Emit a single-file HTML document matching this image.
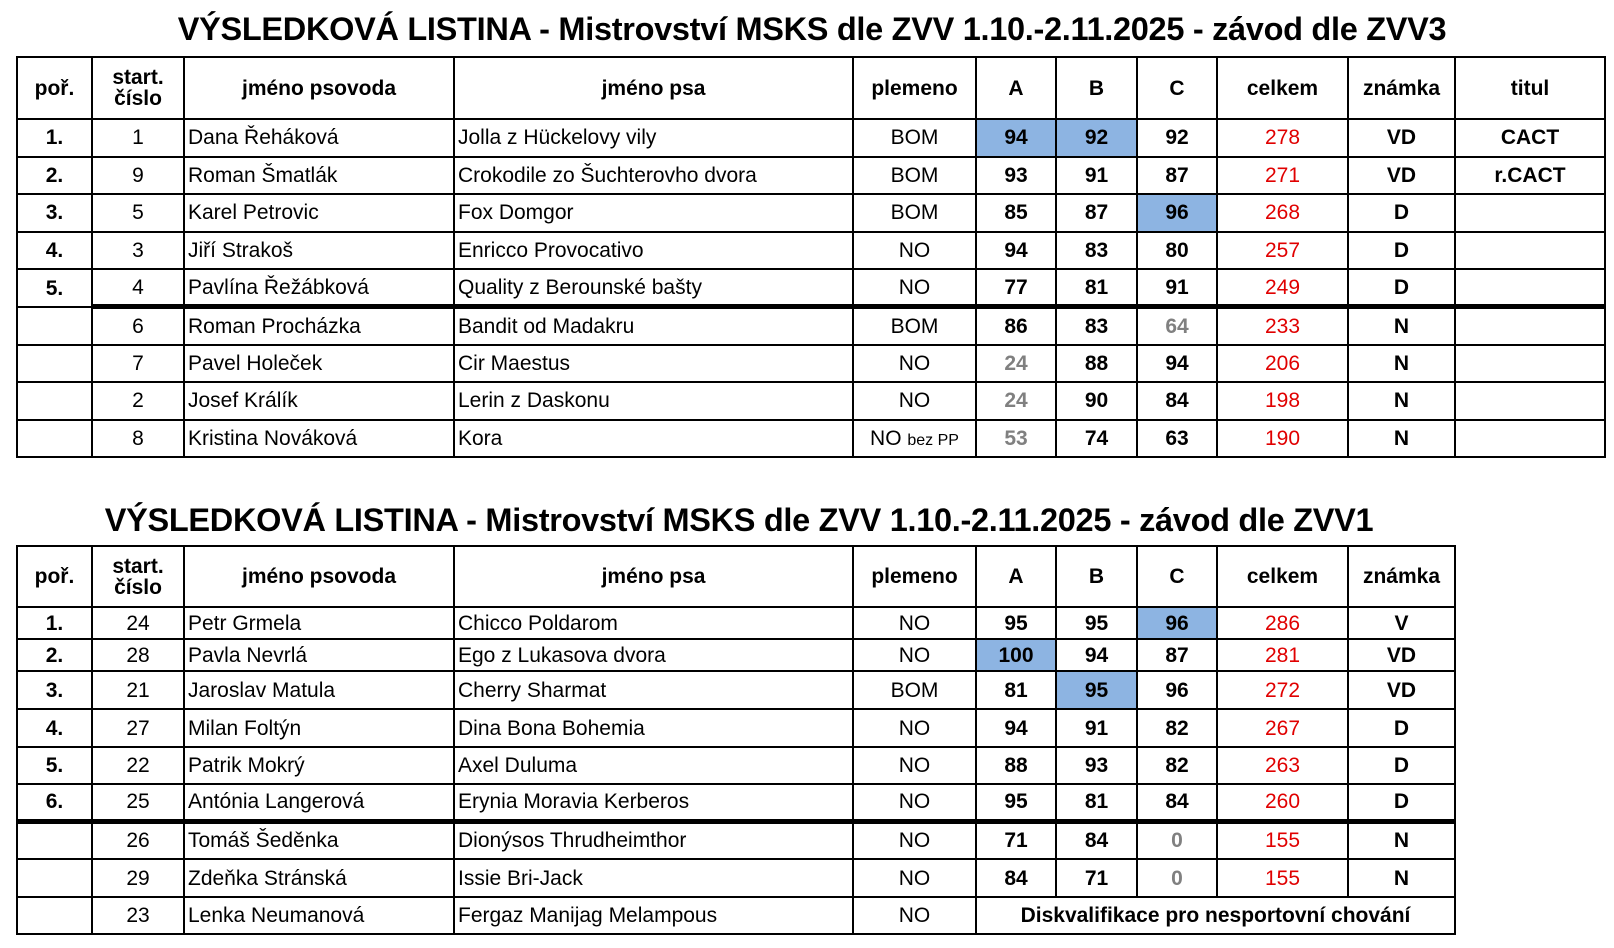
<!DOCTYPE html><html><head><meta charset="utf-8"><style>
body{margin:0;width:1614px;height:948px;background:#fff;font-family:"Liberation Sans",sans-serif;position:relative;overflow:hidden}
.t{position:absolute;left:0;width:1614px;text-align:center;font-weight:bold;font-size:32.5px;letter-spacing:-0.3px}
table{position:absolute;left:16px;border-collapse:collapse;table-layout:fixed;font-size:21px}
td{border:2px solid #000;padding:0;text-align:center;white-space:nowrap;overflow:hidden;line-height:1}
td.l{text-align:left;padding-left:3px}
tr.h td{font-weight:bold;font-size:21px}
.b{font-weight:bold}.r{color:#e00000}.g{color:#808080;font-weight:bold}.hl{background:#8db4e2}
.tk td{border-top:5px solid #000}
small{font-size:16px}
</style></head><body>
<div class="t" style="top:11px;left:0;width:1624px">VÝSLEDKOVÁ LISTINA - Mistrovství MSKS dle ZVV 1.10.-2.11.2025 - závod dle ZVV3</div>
<table style="top:56px;width:1588px">
<colgroup><col style="width:75px"><col style="width:92px"><col style="width:270px"><col style="width:399px"><col style="width:123px"><col style="width:80px"><col style="width:81px"><col style="width:80px"><col style="width:131px"><col style="width:107px"><col style="width:150px"></colgroup>
<tr class="h" style="height:62px"><td>poř.</td><td>start.<br>číslo</td><td>jméno psovoda</td><td>jméno psa</td><td>plemeno</td><td>A</td><td>B</td><td>C</td><td>celkem</td><td>známka</td><td>titul</td></tr>
<tr style="height:37.6px"><td class="b">1.</td><td>1</td><td class="l">Dana Řeháková</td><td class="l">Jolla z Hückelovy vily</td><td>BOM</td><td class="b hl">94</td><td class="b hl">92</td><td class="b">92</td><td class="r">278</td><td class="b">VD</td><td class="b">CACT</td></tr>
<tr style="height:37.6px"><td class="b">2.</td><td>9</td><td class="l">Roman Šmatlák</td><td class="l">Crokodile zo Šuchterovho dvora</td><td>BOM</td><td class="b">93</td><td class="b">91</td><td class="b">87</td><td class="r">271</td><td class="b">VD</td><td class="b">r.CACT</td></tr>
<tr style="height:37.6px"><td class="b">3.</td><td>5</td><td class="l">Karel Petrovic</td><td class="l">Fox Domgor</td><td>BOM</td><td class="b">85</td><td class="b">87</td><td class="b hl">96</td><td class="r">268</td><td class="b">D</td><td></td></tr>
<tr style="height:37.6px"><td class="b">4.</td><td>3</td><td class="l">Jiří Strakoš</td><td class="l">Enricco Provocativo</td><td>NO</td><td class="b">94</td><td class="b">83</td><td class="b">80</td><td class="r">257</td><td class="b">D</td><td></td></tr>
<tr style="height:37.6px"><td class="b">5.</td><td>4</td><td class="l">Pavlína Řežábková</td><td class="l">Quality z Berounské bašty</td><td>NO</td><td class="b">77</td><td class="b">81</td><td class="b">91</td><td class="r">249</td><td class="b">D</td><td></td></tr>
<tr class="tk" style="height:37.6px"><td style="border-top:2px solid #000"></td><td>6</td><td class="l">Roman Procházka</td><td class="l">Bandit od Madakru</td><td>BOM</td><td class="b">86</td><td class="b">83</td><td class="g">64</td><td class="r">233</td><td class="b">N</td><td></td></tr>
<tr style="height:37.6px"><td></td><td>7</td><td class="l">Pavel Holeček</td><td class="l">Cir Maestus</td><td>NO</td><td class="g">24</td><td class="b">88</td><td class="b">94</td><td class="r">206</td><td class="b">N</td><td></td></tr>
<tr style="height:37.6px"><td></td><td>2</td><td class="l">Josef Králík</td><td class="l">Lerin z Daskonu</td><td>NO</td><td class="g">24</td><td class="b">90</td><td class="b">84</td><td class="r">198</td><td class="b">N</td><td></td></tr>
<tr style="height:37.6px"><td></td><td>8</td><td class="l">Kristina Nováková</td><td class="l">Kora</td><td>NO <small>bez PP</small></td><td class="g">53</td><td class="b">74</td><td class="b">63</td><td class="r">190</td><td class="b">N</td><td></td></tr>
</table>
<div class="t" style="top:502px;left:0;width:1478px">VÝSLEDKOVÁ LISTINA - Mistrovství MSKS dle ZVV 1.10.-2.11.2025 - závod dle ZVV1</div>
<table style="top:545px;width:1438px">
<colgroup><col style="width:75px"><col style="width:92px"><col style="width:270px"><col style="width:399px"><col style="width:123px"><col style="width:80px"><col style="width:81px"><col style="width:80px"><col style="width:131px"><col style="width:107px"></colgroup>
<tr class="h" style="height:61px"><td>poř.</td><td>start.<br>číslo</td><td>jméno psovoda</td><td>jméno psa</td><td>plemeno</td><td>A</td><td>B</td><td>C</td><td>celkem</td><td>známka</td></tr>
<tr style="height:32px"><td class="b">1.</td><td>24</td><td class="l">Petr Grmela</td><td class="l">Chicco Poldarom</td><td>NO</td><td class="b">95</td><td class="b">95</td><td class="b hl">96</td><td class="r">286</td><td class="b">V</td></tr>
<tr style="height:32px"><td class="b">2.</td><td>28</td><td class="l">Pavla Nevrlá</td><td class="l">Ego z Lukasova dvora</td><td>NO</td><td class="b hl">100</td><td class="b">94</td><td class="b">87</td><td class="r">281</td><td class="b">VD</td></tr>
<tr style="height:38px"><td class="b">3.</td><td>21</td><td class="l">Jaroslav Matula</td><td class="l">Cherry Sharmat</td><td>BOM</td><td class="b">81</td><td class="b hl">95</td><td class="b">96</td><td class="r">272</td><td class="b">VD</td></tr>
<tr style="height:38px"><td class="b">4.</td><td>27</td><td class="l">Milan Foltýn</td><td class="l">Dina Bona Bohemia</td><td>NO</td><td class="b">94</td><td class="b">91</td><td class="b">82</td><td class="r">267</td><td class="b">D</td></tr>
<tr style="height:37px"><td class="b">5.</td><td>22</td><td class="l">Patrik Mokrý</td><td class="l">Axel Duluma</td><td>NO</td><td class="b">88</td><td class="b">93</td><td class="b">82</td><td class="r">263</td><td class="b">D</td></tr>
<tr style="height:37px"><td class="b">6.</td><td>25</td><td class="l">Antónia Langerová</td><td class="l">Erynia Moravia Kerberos</td><td>NO</td><td class="b">95</td><td class="b">81</td><td class="b">84</td><td class="r">260</td><td class="b">D</td></tr>
<tr class="tk" style="height:38px"><td></td><td>26</td><td class="l">Tomáš Šeděnka</td><td class="l">Dionýsos Thrudheimthor</td><td>NO</td><td class="b">71</td><td class="b">84</td><td class="g">0</td><td class="r">155</td><td class="b">N</td></tr>
<tr style="height:38px"><td></td><td>29</td><td class="l">Zdeňka Stránská</td><td class="l">Issie Bri-Jack</td><td>NO</td><td class="b">84</td><td class="b">71</td><td class="g">0</td><td class="r">155</td><td class="b">N</td></tr>
<tr style="height:37px"><td></td><td>23</td><td class="l">Lenka Neumanová</td><td class="l">Fergaz Manijag Melampous</td><td>NO</td><td colspan="5" class="b">Diskvalifikace pro nesportovní chování</td></tr>
</table>
</body></html>
